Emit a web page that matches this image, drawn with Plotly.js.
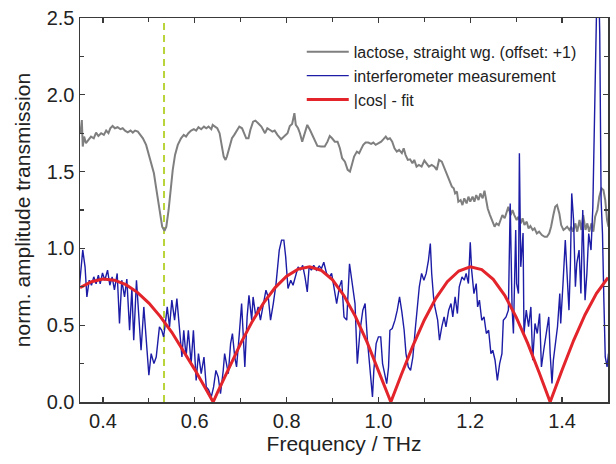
<!DOCTYPE html>
<html>
<head>
<meta charset="utf-8">
<script src="https://cdn.plot.ly/plotly-3.0.1.min.js"></script>
<style>html,body{margin:0;padding:0;background:#fff}#plot{width:616px;height:464px}</style>
</head>
<body>
<div id="plot"></div>
<script>
// Lactose, straight waveguide (offset +1)
var lactoseX = [0.351,0.354,0.356,0.359,0.363,0.368,0.374,0.380,0.385,0.390,0.396,0.402,0.407,0.412,0.416,0.421,0.426,0.432,0.438,0.443,0.448,0.454,0.460,0.465,0.470,0.476,0.482,0.487,0.494,0.499,0.505,0.511,0.516,0.521,0.525,0.529,0.534,0.538,0.543,0.547,0.552,0.557,0.563,0.570,0.576,0.581,0.586,0.592,0.598,0.603,0.608,0.614,0.620,0.625,0.630,0.636,0.639,0.644,0.649,0.654,0.659,0.663,0.667,0.670,0.676,0.681,0.686,0.692,0.697,0.703,0.707,0.712,0.717,0.721,0.727,0.732,0.738,0.745,0.753,0.758,0.764,0.769,0.774,0.780,0.788,0.795,0.802,0.807,0.812,0.817,0.820,0.825,0.829,0.834,0.840,0.845,0.851,0.856,0.862,0.867,0.875,0.883,0.889,0.894,0.899,0.905,0.911,0.916,0.921,0.927,0.933,0.938,0.942,0.947,0.953,0.958,0.962,0.967,0.972,0.978,0.984,0.989,0.994,1.000,1.006,1.011,1.016,1.020,1.025,1.030,1.035,1.040,1.045,1.051,1.055,1.059,1.064,1.069,1.074,1.078,1.083,1.088,1.094,1.100,1.105,1.110,1.116,1.122,1.127,1.132,1.138,1.144,1.149,1.154,1.160,1.164,1.167,1.171,1.174,1.179,1.183,1.187,1.192,1.196,1.200,1.205,1.209,1.213,1.218,1.222,1.227,1.231,1.234,1.238,1.243,1.248,1.253,1.257,1.262,1.266,1.270,1.275,1.279,1.283,1.288,1.292,1.296,1.301,1.305,1.310,1.314,1.318,1.323,1.327,1.331,1.336,1.340,1.345,1.350,1.356,1.362,1.367,1.372,1.376,1.381,1.385,1.389,1.394,1.398,1.403,1.407,1.411,1.416,1.420,1.424,1.429,1.433,1.438,1.442,1.446,1.451,1.455,1.459,1.464,1.468,1.472,1.477,1.481,1.486,1.490,1.494,1.498,1.501];
var lactoseY = [1.75,1.836,1.663,1.728,1.685,1.706,1.728,1.717,1.754,1.732,1.75,1.739,1.767,1.75,1.782,1.797,1.782,1.789,1.776,1.782,1.767,1.756,1.767,1.754,1.767,1.76,1.739,1.717,1.674,1.62,1.565,1.489,1.391,1.293,1.206,1.141,1.115,1.141,1.25,1.38,1.511,1.609,1.674,1.717,1.739,1.728,1.75,1.767,1.776,1.767,1.789,1.776,1.793,1.782,1.793,1.776,1.804,1.793,1.782,1.75,1.663,1.598,1.576,1.598,1.663,1.717,1.739,1.767,1.793,1.782,1.75,1.717,1.717,1.771,1.825,1.832,1.815,1.793,1.75,1.782,1.771,1.76,1.767,1.739,1.711,1.732,1.75,1.797,1.81,1.88,1.804,1.782,1.75,1.695,1.76,1.804,1.771,1.739,1.706,1.667,1.663,1.663,1.695,1.732,1.717,1.695,1.695,1.652,1.587,1.565,1.511,1.50,1.543,1.598,1.63,1.62,1.645,1.674,1.689,1.689,1.68,1.689,1.674,1.685,1.695,1.711,1.728,1.711,1.717,1.695,1.652,1.63,1.641,1.62,1.652,1.609,1.576,1.58,1.554,1.576,1.532,1.543,1.532,1.572,1.554,1.532,1.543,1.532,1.511,1.576,1.565,1.52,1.489,1.445,1.402,1.391,1.358,1.37,1.304,1.315,1.282,1.326,1.293,1.337,1.304,1.337,1.304,1.347,1.315,1.358,1.326,1.376,1.315,1.26,1.217,1.174,1.141,1.163,1.152,1.185,1.217,1.196,1.239,1.271,1.217,1.25,1.217,1.185,1.206,1.163,1.196,1.152,1.174,1.13,1.146,1.12,1.13,1.098,1.109,1.087,1.076,1.076,1.098,1.141,1.217,1.271,1.282,1.228,1.152,1.12,1.13,1.141,1.12,1.141,1.109,1.163,1.109,1.185,1.12,1.217,1.12,1.163,1.109,1.163,1.109,1.206,1.25,1.337,1.391,1.38,1.315,1.185,1.141];

// Interferometer measurement
var interfX = [0.348,0.356,0.361,0.365,0.370,0.375,0.380,0.385,0.390,0.394,0.399,0.404,0.410,0.415,0.420,0.425,0.431,0.436,0.441,0.447,0.452,0.458,0.463,0.467,0.473,0.478,0.483,0.489,0.494,0.500,0.505,0.511,0.516,0.523,0.528,0.532,0.535,0.540,0.545,0.550,0.556,0.561,0.567,0.572,0.576,0.581,0.586,0.592,0.597,0.603,0.608,0.614,0.620,0.625,0.630,0.636,0.641,0.646,0.651,0.656,0.662,0.665,0.669,0.673,0.678,0.682,0.687,0.691,0.697,0.702,0.705,0.709,0.714,0.718,0.724,0.727,0.733,0.738,0.743,0.749,0.755,0.760,0.765,0.771,0.777,0.784,0.789,0.794,0.798,0.803,0.809,0.814,0.820,0.825,0.830,0.835,0.840,0.845,0.849,0.854,0.859,0.865,0.871,0.876,0.881,0.887,0.893,0.898,0.903,0.909,0.915,0.920,0.925,0.931,0.937,0.944,0.949,0.954,0.960,0.966,0.971,0.976,0.982,0.987,0.990,0.995,1.000,1.005,1.009,1.014,1.018,1.022,1.025,1.030,1.036,1.041,1.046,1.051,1.056,1.060,1.065,1.070,1.075,1.080,1.085,1.089,1.094,1.099,1.104,1.109,1.113,1.116,1.120,1.123,1.129,1.133,1.138,1.143,1.147,1.153,1.158,1.162,1.167,1.172,1.176,1.182,1.187,1.191,1.196,1.200,1.203,1.208,1.213,1.216,1.220,1.225,1.230,1.235,1.240,1.245,1.249,1.254,1.259,1.264,1.269,1.272,1.278,1.283,1.287,1.291,1.294,1.299,1.301,1.305,1.307,1.310,1.315,1.317,1.322,1.327,1.332,1.336,1.341,1.346,1.351,1.355,1.360,1.365,1.371,1.374,1.378,1.381,1.386,1.390,1.395,1.397,1.402,1.407,1.410,1.415,1.418,1.421,1.425,1.429,1.432,1.437,1.441,1.445,1.450,1.454,1.458,1.463,1.467,1.470,1.473,1.476,1.480,1.482,1.485,1.488,1.491,1.494,1.498,1.501];
var interfY = [0.73,0.99,0.88,0.684,0.793,0.76,0.815,0.77,0.826,0.77,0.84,0.793,0.858,0.76,0.815,0.73,0.837,0.511,0.793,0.684,0.80,0.467,0.74,0.402,0.793,0.533,0.337,0.619,0.402,0.174,0.315,0.25,0.293,0.489,0.467,0.424,0.489,0.619,0.489,0.663,0.533,0.673,0.467,0.293,0.467,0.293,0.467,0.25,0.467,0.141,0.315,0.185,0.293,0.098,0.08,0.033,0.098,0.206,0.163,0.054,0.206,0.315,0.25,0.185,0.38,0.445,0.293,0.228,0.445,0.641,0.467,0.228,0.554,0.695,0.533,0.684,0.554,0.619,0.533,0.641,0.728,0.684,0.533,0.641,0.771,0.989,1.054,1.054,0.945,0.739,0.793,0.76,0.837,0.88,0.858,0.89,0.815,0.717,0.88,0.858,0.89,0.858,0.885,0.87,0.91,0.837,0.815,0.837,0.75,0.641,0.75,0.793,0.554,0.533,0.90,0.728,0.641,0.25,0.467,0.598,0.641,0.402,0.185,0.033,0.206,0.38,0.424,0.424,0.25,0.163,0.12,0.228,0.467,0.478,0.533,0.598,0.684,0.587,0.467,0.315,0.228,0.206,0.293,0.467,0.619,0.75,0.837,0.793,0.837,0.924,1.032,0.837,0.684,0.619,0.533,0.402,0.489,0.554,0.489,0.598,0.641,0.554,0.684,0.576,0.75,0.815,0.793,0.837,0.771,1.04,0.86,0.706,0.771,0.619,0.663,0.532,0.554,0.446,0.467,0.315,0.337,0.272,0.141,0.25,0.315,0.532,0.554,0.598,1.293,0.619,0.446,1.12,0.771,0.706,1.62,0.88,1.10,0.446,0.598,0.49,0.619,0.272,0.511,0.446,0.576,0.228,0.337,0.446,0.554,0.315,0.12,0.272,0.402,0.49,0.706,0.511,0.771,1.054,0.88,0.598,0.88,1.358,1.184,0.75,0.902,0.989,0.706,1.25,0.663,0.837,1.097,0.989,1.27,1.75,2.40,2.7,2.7,2.40,1.315,1.097,0.663,0.293,0.228,0.315];

// |cos| fit
var fitX = [0.35,0.375,0.40,0.425,0.45,0.475,0.50,0.525,0.55,0.575,0.60,0.625,0.64,0.65,0.675,0.70,0.725,0.75,0.775,0.80,0.825,0.85,0.875,0.90,0.925,0.95,0.975,1.00,1.027,1.05,1.075,1.10,1.125,1.15,1.175,1.20,1.225,1.25,1.275,1.30,1.325,1.35,1.374,1.40,1.425,1.45,1.475,1.50];
var fitY = [0.745,0.783,0.80,0.793,0.764,0.714,0.644,0.556,0.454,0.337,0.211,0.080,0,0.066,0.228,0.382,0.523,0.645,0.745,0.819,0.865,0.88,0.858,0.795,0.692,0.556,0.391,0.209,0,0.179,0.365,0.534,0.675,0.783,0.853,0.88,0.862,0.799,0.695,0.553,0.383,0.192,0,0.209,0.40,0.568,0.707,0.81];

// marked lactose absorption frequency
var markX = [0.533];

var seriesNames = ['lactose, straight wg. (offset: +1)', 'interferometer measurement', '|cos| - fit'];

var FONT = 'Liberation Sans, Arial, Helvetica, sans-serif';
var traces = [
  {x: lactoseX, y: lactoseY, type: 'scatter', mode: 'lines', name: seriesNames[0],
   line: {color: '#7f7f7f', width: 2}},
  {x: interfX, y: interfY, type: 'scatter', mode: 'lines', name: seriesNames[1],
   line: {color: '#1c1ca6', width: 1.4}},
  {x: fitX, y: fitY, type: 'scatter', mode: 'lines', name: seriesNames[2],
   line: {color: '#e3242b', width: 3}}
];

var axisCommon = {
  showline: true, linecolor: '#3a3a3a', linewidth: 1.5, mirror: 'ticks',
  ticks: 'inside', ticklen: 5, tickwidth: 1.2, tickcolor: '#3a3a3a',
  showgrid: false, zeroline: false,
  tickfont: {family: FONT, size: 20, color: '#222'}
};

var layout = {
  width: 616, height: 464,
  margin: {l: 80, r: 8, t: 18, b: 62},
  paper_bgcolor: '#fff', plot_bgcolor: '#fff',
  showlegend: true,
  legend: {x: 0.42, y: 0.956, xanchor: 'left', yanchor: 'top', bgcolor: 'rgba(0,0,0,0)',
           itemwidth: 42, font: {family: FONT, size: 16, color: '#222'}, tracegroupgap: 0},
  xaxis: Object.assign({}, axisCommon, {
    range: [0.35, 1.5], tick0: 0.4, dtick: 0.2, tickformat: '.1f',
    minor: {ticks: 'inside', dtick: 0.1, tick0: 0.3, ticklen: 4, tickcolor: '#3a3a3a', tickwidth: 1.2},
    title: {text: 'Frequency / THz', font: {family: FONT, size: 21, color: '#222'}, standoff: 6}
  }),
  yaxis: Object.assign({}, axisCommon, {
    range: [0, 2.5], tick0: 0, dtick: 0.5, tickformat: '.1f',
    minor: {ticks: 'inside', dtick: 0.25, ticklen: 4, tickcolor: '#3a3a3a', tickwidth: 1.2},
    title: {text: 'norm. amplitude transmission', font: {family: FONT, size: 21, color: '#222'}, standoff: 10}
  }),
  shapes: [{type: 'line', xref: 'x', yref: 'paper', x0: markX[0], x1: markX[0], y0: 0, y1: 1,
            line: {color: '#b9d43a', width: 2, dash: '7px,5px'}, layer: 'below'}]
};

Plotly.newPlot('plot', traces, layout, {displayModeBar: false, staticPlot: true});
</script>
</body>
</html>
